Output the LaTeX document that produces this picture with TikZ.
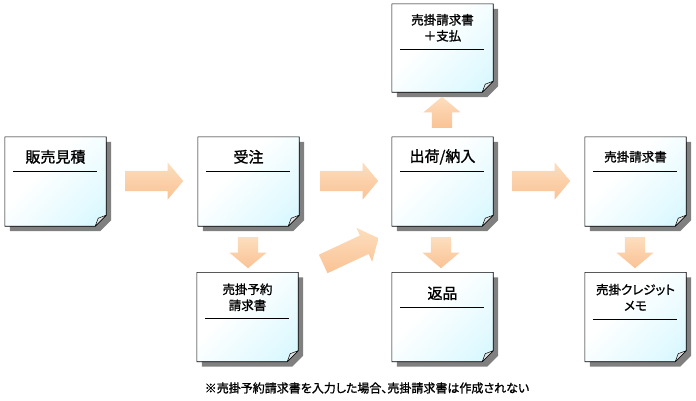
\documentclass[tikz,border=0pt]{standalone}
\usepackage{fontspec}
\setmainfont[RawFeature=+palt, FakeBold=1.2]{Noto Sans CJK JP}
\usetikzlibrary{shapes.arrows,calc}
\definecolor{notecyan}{RGB}{196,244,255}
\definecolor{shadowgray}{RGB}{128,128,128}
\definecolor{arrowtop}{RGB}{253,222,190}
\definecolor{arrowbot}{RGB}{250,194,148}
\pgfdeclarehorizontalshading{notegrad}{100bp}{color(0bp)=(white); color(40bp)=(white); color(72bp)=(notecyan!50!white); color(100bp)=(notecyan)}
\newcommand\notedecor[1]{%
  \fill[shadowgray] ([shift={(5,5)}]#1.north west) -- ([shift={(5,5)}]#1.north east)
    -- ([shift={(5,-6)}]#1.south east) -- ([shift={(-6,5)}]#1.south east)
    -- ([shift={(5,5)}]#1.south west) -- cycle;
  \shade[shading=notegrad, shading angle=-45, draw=black, line width=0.6pt]
    (#1.north west) -- (#1.north east) -- ([shift={(0,-11)}]#1.south east)
    -- ([shift={(-11,0)}]#1.south east) -- (#1.south west) -- cycle;
  \filldraw[fill=gray!22, draw=black, line width=0.5pt, line join=round]
    ([shift={(-11,0)}]#1.south east) .. controls ([shift={(-10,-4)}]#1.south east) .. ([shift={(-8,-8)}]#1.south east)
    .. controls ([shift={(-4,-10)}]#1.south east) .. ([shift={(0,-11)}]#1.south east) -- cycle;
}
\newcommand\noterule[2]{%
  \draw[line width=0.6pt] ([shift={(8,#2)}]#1.north west) -- ([shift={(-9,#2)}]#1.north east);
}
\tikzset{
  notebox/.style={rectangle, draw=none, inner sep=0pt, minimum width=101pt, minimum height=89pt},
  bigtitle/.style={inner sep=0pt, font=\fontsize{15pt}{18pt}\selectfont},
  smalltitle/.style={inner sep=0pt, align=center, font=\fontsize{12.5pt}{16pt}\selectfont},
  blockarrow/.style={single arrow, draw=none, top color=arrowtop, bottom color=arrowbot,
    minimum width=37pt, single arrow head extend=8.5pt, single arrow tip angle=100,
    single arrow head indent=0pt, inner xsep=0pt, inner ysep=10pt, text height=0pt, text depth=0pt,
    anchor=tail},
  footnotetext/.style={inner sep=0pt, font=\fontsize{12pt}{14pt}\selectfont}
}
\begin{document}
\begin{tikzpicture}[x=1pt,y=-1pt]
\useasboundingbox[fill=white] (0,0) rectangle (696,400);
% notes
\node[notebox] (n1) at (55.5,181.5) {};
\node[notebox] (n2) at (248.5,181.5) {};
\node[notebox] (n3) at (442.5,181.5) {};
\node[notebox] (n4) at (635.5,181.5) {};
\node[notebox, minimum height=88pt] (nt) at (442.5,48) {};
\node[notebox] (n5) at (247.5,317) {};
\node[notebox] (n6) at (442.5,317) {};
\node[notebox] (n7) at (635.5,317) {};
\foreach \n in {n1,n2,n3,n4,nt,n5,n6,n7}{\notedecor{\n}}
% titles
\node[bigtitle] (t1) at ([shift={(0,20)}]n1.north) {販売見積};
\node[bigtitle] (t2) at ([shift={(0,20)}]n2.north) {受注};
\node[bigtitle] (t3) at ([shift={(0,20)}]n3.north) {出荷/納入};
\node[smalltitle] (t4) at ([shift={(0,20)}]n4.north) {売掛請求書};
\node[smalltitle] (tt) at ([shift={(0,24)}]nt.north) {売掛請求書\\＋支払};
\node[smalltitle] (t5) at ([shift={(0,25)}]n5.north) {売掛予約\\請求書};
\node[bigtitle] (t6) at ([shift={(0,21)}]n6.north) {返品};
\node[smalltitle] (t7) at ([shift={(0,25)}]n7.north) {売掛クレジット\\メモ};
\noterule{n1}{34}
\noterule{n2}{34}
\noterule{n3}{34}
\noterule{n4}{34}
\noterule{nt}{45}
\noterule{n5}{46}
\noterule{n6}{35}
\noterule{n7}{47}
% arrows
\node[blockarrow, minimum height=58pt] (a12) at (125,181) {};
\node[blockarrow, minimum height=58pt] (a23) at (320,181) {};
\node[blockarrow, minimum height=58pt] (a34) at (512,181) {};
\node[blockarrow, minimum height=31pt, rotate=-90] (a25) at (248,237) {};
\node[blockarrow, minimum height=31pt, rotate=-90] (a36) at (441,237) {};
\node[blockarrow, minimum height=31pt, rotate=-90] (a47) at (635,237) {};
\node[blockarrow, minimum height=31pt, rotate=90] (a3t) at (442,128) {};
\node[blockarrow, minimum height=61pt, rotate=25] (a53) at (323,264) {};
% footnote
\node[footnotetext] (fn) at (367,388) {※売掛予約請求書を入力した場合、売掛請求書は作成されない};
\end{tikzpicture}
\end{document}
